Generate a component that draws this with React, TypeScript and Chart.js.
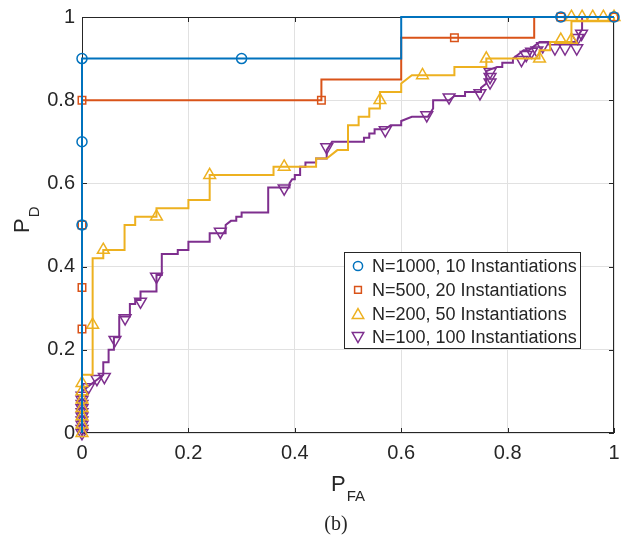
import React, { useEffect, useRef } from "react";
import { Chart, registerables } from "chart.js";

Chart.register(...registerables);

const SANS = "'Liberation Sans', Arial, Helvetica, sans-serif";
const SERIF = "'Liberation Serif', 'Times New Roman', serif";
const INK = "#262626";
const GRID = "#e1e1e1";

type Pt = [number, number];

const axisTicks = [0, 0.2, 0.4, 0.6, 0.8, 1];

const seriesLabels = [
  "N=1000, 10 Instantiations",
  "N=500, 20 Instantiations",
  "N=200, 50 Instantiations",
  "N=100, 100 Instantiations",
];
const seriesColors = ["#0072BD", "#D95319", "#EDB120", "#7E2F8E"];
const seriesMarkers = ["circle", "rect", "triangle", "triangle"];
const markerRotation = [0, 0, 0, 180];
const markerRadius = [5, 5.3, 6.8, 6.8];

// ROC curves as (P_FA, P_D) vertices
const roc1000: Pt[] = [[0, 0], [0, 0.9], [0.6, 0.9], [0.6, 1], [1, 1]];
const marks1000: Pt[] = [[0, 0.5], [0, 0.7], [0, 0.9], [0.3, 0.9], [0.9, 1], [1, 1]];

const roc500: Pt[] = [
  [0, 0], [0, 0.8], [0.45, 0.8], [0.45, 0.85], [0.6, 0.85], [0.6, 0.95],
  [0.85, 0.95], [0.85, 1], [1, 1],
];
const marks500: Pt[] = [
  [0, 0.25], [0, 0.35], [0, 0.5], [0, 0.8], [0.45, 0.8], [0.7, 0.95], [0.9, 1], [1, 1],
];

const roc200: Pt[] = [
  [0, 0], [0, 0.14], [0.02, 0.14], [0.02, 0.42], [0.04, 0.42], [0.04, 0.44],
  [0.08, 0.44], [0.08, 0.5], [0.1, 0.5], [0.1, 0.52], [0.14, 0.52], [0.14, 0.54],
  [0.2, 0.54], [0.2, 0.56], [0.24, 0.56], [0.24, 0.62], [0.36, 0.62], [0.36, 0.64],
  [0.44, 0.64], [0.44, 0.66], [0.46, 0.66], [0.48, 0.68], [0.5, 0.68], [0.5, 0.74],
  [0.52, 0.74], [0.52, 0.76], [0.54, 0.76], [0.54, 0.78], [0.56, 0.78], [0.56, 0.82],
  [0.6, 0.82], [0.6, 0.84], [0.62, 0.86], [0.7, 0.86], [0.7, 0.88], [0.76, 0.88],
  [0.76, 0.9], [0.86, 0.9], [0.86, 0.92], [0.88, 0.92], [0.88, 0.94], [0.92, 0.94],
  [0.92, 0.99], [1, 0.99], [1, 1],
];
const marks200: Pt[] = [
  [0, 0], [0, 0.02], [0, 0.04], [0, 0.06], [0, 0.08], [0, 0.1], [0, 0.12],
  [0.02, 0.26], [0.04, 0.44], [0.14, 0.52], [0.24, 0.62], [0.38, 0.64],
  [0.56, 0.8], [0.64, 0.86], [0.76, 0.9], [0.86, 0.9], [0.9, 0.945], [0.92, 0.945],
  [0.92, 1], [0.94, 1], [0.96, 1], [0.98, 1], [1, 1],
];

const roc100: Pt[] = [
  [0, 0], [0, 0.1], [0.01, 0.11], [0.02, 0.12], [0.03, 0.13], [0.04, 0.14],
  [0.04, 0.17], [0.05, 0.17], [0.05, 0.2], [0.06, 0.2], [0.06, 0.23], [0.07, 0.23],
  [0.07, 0.28], [0.09, 0.28], [0.09, 0.31], [0.1, 0.31], [0.1, 0.32], [0.11, 0.32],
  [0.11, 0.34], [0.14, 0.34], [0.14, 0.38], [0.15, 0.38], [0.15, 0.43], [0.18, 0.43],
  [0.18, 0.44], [0.2, 0.44], [0.2, 0.46], [0.24, 0.46], [0.24, 0.48], [0.27, 0.48],
  [0.27, 0.5], [0.28, 0.51], [0.29, 0.51], [0.29, 0.52], [0.3, 0.52], [0.3, 0.53],
  [0.35, 0.53], [0.35, 0.59], [0.39, 0.59], [0.39, 0.6], [0.395, 0.61], [0.4, 0.61],
  [0.4, 0.62], [0.41, 0.62], [0.41, 0.64], [0.42, 0.64], [0.42, 0.65], [0.44, 0.65],
  [0.44, 0.66], [0.46, 0.66], [0.46, 0.68], [0.47, 0.7], [0.53, 0.7], [0.53, 0.71],
  [0.54, 0.71], [0.54, 0.72], [0.55, 0.72], [0.55, 0.73], [0.57, 0.73], [0.58, 0.74],
  [0.6, 0.74], [0.6, 0.75], [0.62, 0.76], [0.65, 0.76], [0.66, 0.78], [0.66, 0.8],
  [0.69, 0.8], [0.7, 0.81], [0.72, 0.81], [0.72, 0.82], [0.75, 0.82], [0.75, 0.83],
  [0.76, 0.84], [0.76, 0.87], [0.78, 0.88], [0.79, 0.88], [0.79, 0.89], [0.81, 0.89],
  [0.81, 0.9], [0.82, 0.91], [0.83, 0.92], [0.84, 0.92], [0.85, 0.93], [0.86, 0.94],
  [0.93, 0.94], [0.935, 0.96], [0.94, 0.97], [0.94, 1], [1, 1],
];
const marks100: Pt[] = [
  [0, 0], [0, 0.01], [0, 0.02], [0, 0.03], [0, 0.04], [0, 0.05], [0, 0.06],
  [0, 0.07], [0, 0.08], [0, 0.09],
  [0.012, 0.11], [0.028, 0.13], [0.042, 0.135], [0.062, 0.224], [0.081, 0.276],
  [0.11, 0.316], [0.14, 0.376], [0.26, 0.484], [0.38, 0.588], [0.46, 0.687],
  [0.57, 0.728], [0.648, 0.764], [0.69, 0.807], [0.748, 0.817], [0.767, 0.843],
  [0.767, 0.856], [0.767, 0.868], [0.826, 0.897], [0.835, 0.909], [0.845, 0.917],
  [0.855, 0.92], [0.866, 0.93], [0.889, 0.925], [0.908, 0.925], [0.93, 0.925],
  [0.932, 0.95], [0.939, 0.96],
];

const curves = [roc1000, roc500, roc200, roc100];
const markerSets = [marks1000, marks500, marks200, marks100];

const toXY = (pts: Pt[]) => pts.map(([x, y]) => ({ x, y }));

function buildDatasets() {
  const out: any[] = [];
  seriesLabels.forEach((label, i) => {
    out.push({
      label,
      data: toXY(markerSets[i]),
      showLine: false,
      pointStyle: seriesMarkers[i],
      pointRotation: markerRotation[i],
      pointRadius: markerRadius[i],
      pointBorderWidth: 1.5,
      pointBorderColor: seriesColors[i],
      pointBackgroundColor: "rgba(0,0,0,0)",
      borderColor: seriesColors[i],
      backgroundColor: "rgba(0,0,0,0)",
      clip: false,
    });
    out.push({
      label: label + " curve",
      data: toXY(curves[i]),
      showLine: true,
      pointRadius: 0,
      borderColor: seriesColors[i],
      borderWidth: 2,
      tension: 0,
      fill: false,
      clip: false,
    });
  });
  return out;
}

function drawMarker(ctx: CanvasRenderingContext2D, style: string, rot: number, r: number, x: number, y: number) {
  ctx.beginPath();
  if (style === "circle") {
    ctx.arc(x, y, r, 0, Math.PI * 2);
  } else if (style === "rect") {
    const h = r * Math.SQRT1_2;
    ctx.rect(x - h, y - h, 2 * h, 2 * h);
  } else {
    let a = (rot * Math.PI) / 180;
    for (let k = 0; k < 3; k++) {
      const px = x + Math.sin(a) * r;
      const py = y - Math.cos(a) * r;
      if (k === 0) ctx.moveTo(px, py);
      else ctx.lineTo(px, py);
      a += (2 * Math.PI) / 3;
    }
    ctx.closePath();
  }
  ctx.stroke();
}

function drawSubscripted(
  ctx: CanvasRenderingContext2D,
  main: string,
  sub: string,
  x: number,
  y: number,
  vertical: boolean
) {
  ctx.save();
  ctx.translate(x, y);
  if (vertical) ctx.rotate(-Math.PI / 2);
  ctx.fillStyle = INK;
  ctx.textAlign = "left";
  ctx.textBaseline = "alphabetic";
  ctx.font = `22px ${SANS}`;
  ctx.fillText(main, 0, 0);
  const w = ctx.measureText(main).width;
  ctx.font = `15px ${SANS}`;
  ctx.fillText(sub, w + 1, 10);
  ctx.restore();
}

const decor = {
  id: "rocDecor",
  beforeDatasetsDraw(chart: any) {
    const { ctx, chartArea: a, scales } = chart;
    const xs = scales.x;
    const ys = scales.y;
    ctx.save();
    ctx.strokeStyle = INK;
    ctx.lineWidth = 1;
    ctx.strokeRect(a.left + 0.5, a.top + 0.5, a.right - a.left - 1, a.bottom - a.top - 1);
    const tl = 5;
    ctx.beginPath();
    axisTicks.forEach((v) => {
      const px = Math.round(xs.getPixelForValue(v)) + 0.5;
      ctx.moveTo(px, a.bottom);
      ctx.lineTo(px, a.bottom - tl);
      ctx.moveTo(px, a.top);
      ctx.lineTo(px, a.top + tl);
      const py = Math.round(ys.getPixelForValue(v)) + 0.5;
      ctx.moveTo(a.left, py);
      ctx.lineTo(a.left + tl, py);
      ctx.moveTo(a.right, py);
      ctx.lineTo(a.right - tl, py);
    });
    ctx.stroke();
    ctx.restore();
  },
  afterDraw(chart: any) {
    const { ctx, chartArea: a } = chart;
    ctx.save();

    // legend box
    const lx = a.left + 262;
    const ly = a.top + 235;
    const lw = 236;
    const lh = 96;
    ctx.fillStyle = "#ffffff";
    ctx.fillRect(lx, ly, lw, lh);
    ctx.strokeStyle = INK;
    ctx.lineWidth = 1;
    ctx.strokeRect(lx + 0.5, ly + 0.5, lw, lh);
    ctx.font = `18px ${SANS}`;
    ctx.textBaseline = "middle";
    ctx.textAlign = "left";
    seriesLabels.forEach((label, i) => {
      const cy = ly + 14 + i * 23.8;
      ctx.strokeStyle = seriesColors[i];
      ctx.lineWidth = 1.5;
      const r = seriesMarkers[i] === "triangle" ? 6.6 : seriesMarkers[i] === "rect" ? 4.8 : 4.6;
      const off = seriesMarkers[i] === "triangle" ? (markerRotation[i] ? -1.5 : 1.5) : 0;
      drawMarker(ctx, seriesMarkers[i], markerRotation[i], r, lx + 14, cy + off);
      ctx.fillStyle = INK;
      ctx.fillText(label, lx + 28, cy + 1);
    });

    // axis titles
    const cx = (a.left + a.right) / 2;
    ctx.font = `22px ${SANS}`;
    const wP = ctx.measureText("P").width;
    ctx.font = `15px ${SANS}`;
    const wFA = ctx.measureText("FA").width;
    drawSubscripted(ctx, "P", "FA", cx - (wP + 1 + wFA) / 2, a.bottom + 58, false);
    drawSubscripted(ctx, "P", "D", a.left - 53, a.top + 216, true);

    // caption
    ctx.fillStyle = INK;
    ctx.font = `20px ${SERIF}`;
    ctx.textAlign = "center";
    ctx.textBaseline = "alphabetic";
    ctx.fillText("(b)", a.left + 254, a.bottom + 97);
    ctx.restore();
  },
};

function axisOptions(isX: boolean) {
  return {
    type: "linear",
    min: 0,
    max: 1,
    afterBuildTicks: (s: any) => {
      s.ticks = axisTicks.map((value) => ({ value }));
    },
    afterFit: (s: any) => {
      if (isX) s.height = 104;
      else s.width = 82;
      // the fixed layout padding already leaves room for the end labels
      s.paddingLeft = 0;
      s.paddingRight = 0;
      s.paddingTop = 0;
      s.paddingBottom = 0;
    },
    ticks: {
      color: INK,
      font: { family: SANS, size: 20 },
      padding: isX ? 8 : 7,
      maxRotation: 0,
      callback: (v: number) => String(Math.round(v * 10) / 10),
    },
    grid: { color: GRID, lineWidth: 1, drawTicks: false },
    border: { display: false },
  };
}

export default function App() {
  const ref = useRef<HTMLCanvasElement>(null);
  useEffect(() => {
    if (!ref.current) return;
    const chart = new Chart(ref.current, {
      type: "scatter",
      data: { datasets: buildDatasets() },
      options: {
        animation: false,
        responsive: false,
        devicePixelRatio: 1,
        events: [],
        layout: { padding: { top: 17, right: 10, left: 0, bottom: 0 } },
        plugins: {
          legend: { display: false },
          tooltip: { enabled: false },
        },
        scales: { x: axisOptions(true) as any, y: axisOptions(false) as any },
      },
      plugins: [decor],
    });
    return () => chart.destroy();
  }, []);
  return (
    <div
      style={{
        position: "fixed",
        left: 0,
        top: 0,
        width: 624,
        height: 537,
        background: "#ffffff",
      }}
    >
      <canvas ref={ref} width={624} height={537} style={{ display: "block" }} />
    </div>
  );
}
